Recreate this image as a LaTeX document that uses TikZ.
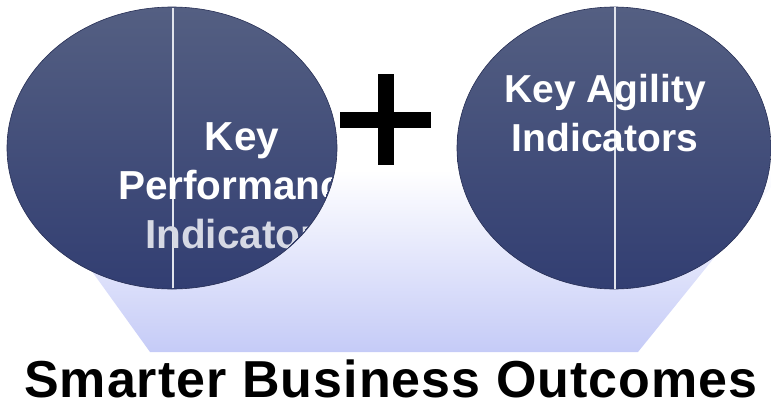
\documentclass[tikz,border=0pt]{standalone}
\usepackage{fontspec}
\setmainfont{Liberation Sans}
\usetikzlibrary{shapes.geometric}
\definecolor{ovaltop}{RGB}{84,95,130}
\definecolor{ovalbot}{RGB}{50,62,114}
\definecolor{ovaledge}{RGB}{38,46,84}
\definecolor{trapbot}{RGB}{197,203,247}
\definecolor{dimtext}{RGB}{214,217,228}
\tikzset{
  oval/.style={top color=ovaltop, bottom color=ovalbot, draw=ovaledge, line width=0.6pt},
  divider/.style={draw={rgb,255:red,225;green,228;blue,236}, line width=1.6pt},
  ovaltext/.style={font=\fontsize{39}{47}\selectfont\bfseries, text=white, inner sep=0pt, anchor=base},
  bigovaltext/.style={ovaltext, font=\fontsize{40.5}{48}\selectfont\bfseries},
  titletext/.style={font=\fontsize{52}{60}\selectfont\bfseries\addfontfeature{LetterSpace=2}, text=black, inner sep=0pt, anchor=base}
}
\begin{document}
\begin{tikzpicture}[x=1pt,y=-1pt]
\useasboundingbox (0,0) rectangle (771,405);
% background trapezoid
\shade[top color=white, bottom color=trapbot] (19,170) -- (785,170) -- (638,352) -- (150,352) -- cycle;
% left oval
\path[oval] (172,148) ellipse [x radius=165, y radius=141];
\begin{scope}
  \clip (172,148) ellipse [x radius=163, y radius=140];
  \draw[divider] (173,0) -- (173,300);
  \node[bigovaltext] (kpi1) at (242,150) {Key};
  \node[bigovaltext] (kpi2) at (242,199) {Performance};
  \node[bigovaltext, text=dimtext] (kpi3) at (242,248) {Indicators};
\end{scope}
% right oval
\path[oval] (614,148) ellipse [x radius=157, y radius=141];
\begin{scope}
  \clip (614,148) ellipse [x radius=157, y radius=141];
  \draw[divider] (615,0) -- (615,300);
\end{scope}
\node[ovaltext] (kai1) at (605,102) {Key Agility};
\node[ovaltext] (kai2) at (605,151) {Indicators};
% plus sign
\fill[black] (378,74) rectangle (394,165);
\fill[black] (340,112) rectangle (431,128);
% title
\node[titletext] (title) at (391,397) {Smarter Business Outcomes};
\end{tikzpicture}
\end{document}
